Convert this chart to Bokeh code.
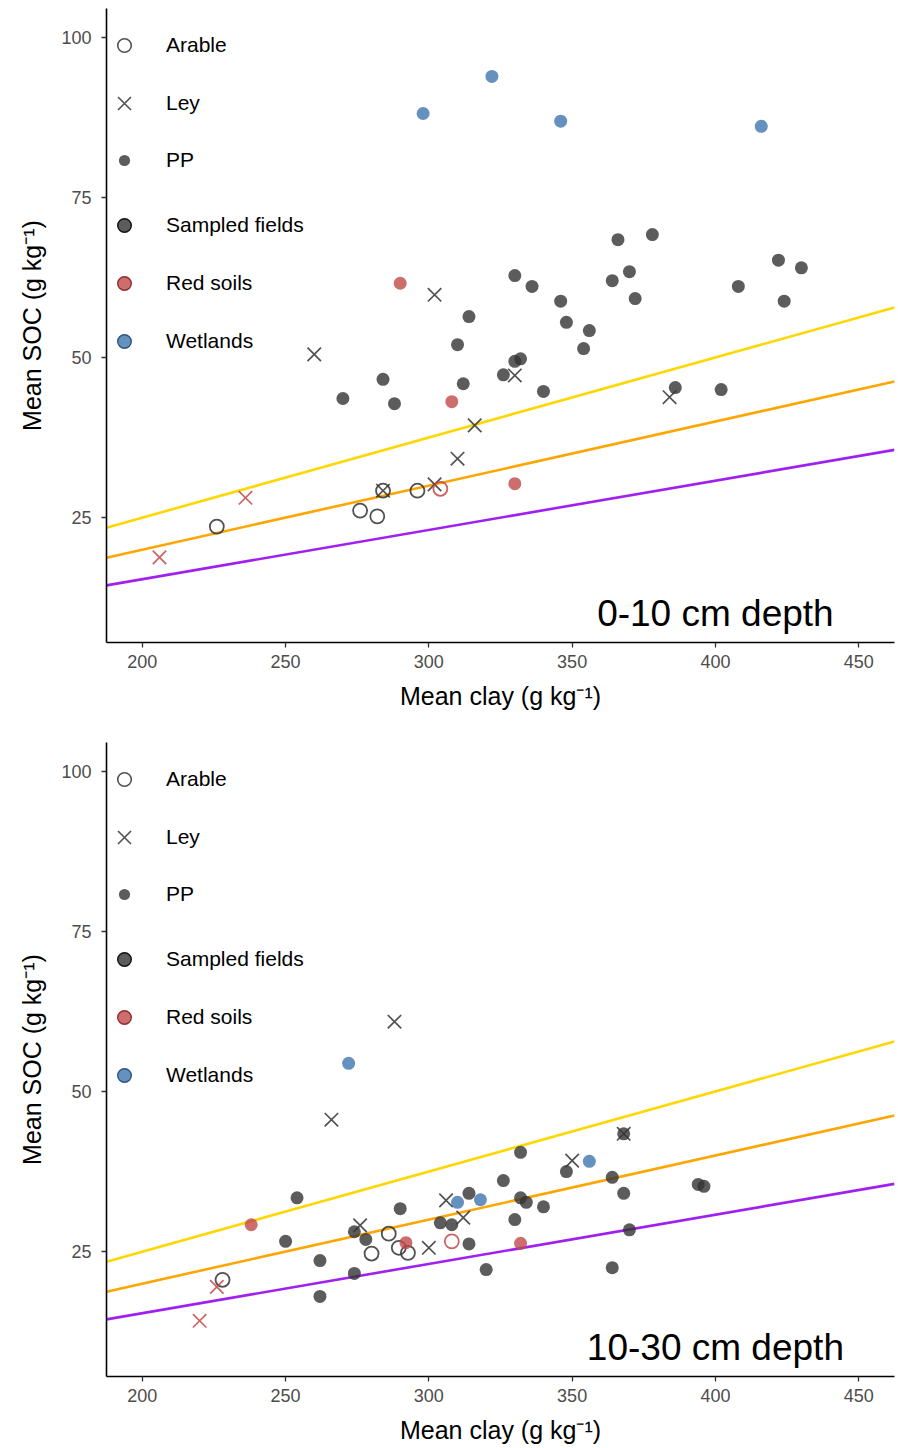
from bokeh.plotting import figure
from bokeh.models import Legend, LegendItem, Label, FixedTicker, Range1d
from bokeh.layouts import column
from bokeh.embed import file_html
from bokeh.resources import INLINE

FONT = "Liberation Sans"
NAN = float("nan")

# ---------------- axes / reference lines ----------------
X_LIMITS = [200, 450]
Y_LIMITS = [10, 100]
X_TICKS = [200, 250, 300, 350, 400, 450]
Y_TICKS = [25, 50, 75, 100]
RATIOS = [8, 10, 13]              # SOC = clay / ratio
RATIO_COLORS = ["#FFD700", "#FFA500", "#A020F0"]

# ---------------- 0-10 cm depth ----------------
d1_arable_clay = [226, 276, 282, 284, 296]
d1_arable_soc = [23.6, 26.1, 25.2, 29.2, 29.2]
d1_ley_clay = [260, 302, 330, 316, 310, 302, 284, 384]
d1_ley_soc = [50.5, 59.8, 47.2, 39.4, 34.2, 30.2, 29.2, 43.8]
d1_pp_clay = [270, 284, 288, 310, 314, 312, 326, 330, 332, 330, 336, 340, 346, 348,
              354, 356, 364, 366, 370, 372, 378, 386, 402, 408, 422, 424, 430]
d1_pp_soc = [43.6, 46.6, 42.8, 52.0, 56.4, 45.9, 47.3, 49.4, 49.8, 62.8, 61.1, 44.7, 58.8, 55.5,
             51.4, 54.2, 62.0, 68.4, 63.4, 59.2, 69.2, 45.3, 45.0, 61.1, 65.2, 58.8, 64.0]
d1_red_pp_clay = [290, 308, 330]
d1_red_pp_soc = [61.6, 43.1, 30.3]
d1_red_ley_clay = [236, 206]
d1_red_ley_soc = [28.1, 18.8]
d1_red_arable_clay = [304]
d1_red_arable_soc = [29.5]
d1_wet_pp_clay = [298, 322, 346, 416]
d1_wet_pp_soc = [88.1, 93.9, 86.9, 86.1]

# ---------------- 10-30 cm depth ----------------
d2_arable_clay = [228, 280, 286, 289.5, 292.7]
d2_arable_soc = [20.6, 24.7, 27.8, 25.6, 24.8]
d2_ley_clay = [288, 266, 276, 300, 306, 312, 350, 368]
d2_ley_soc = [60.9, 45.6, 29.1, 25.6, 33.0, 30.3, 39.2, 43.4]
d2_pp_clay = [254, 250, 262, 262, 274, 274, 278, 290, 304, 308, 314, 314, 320, 326,
              332, 332, 334, 340, 330, 348, 368, 364, 368, 370, 364, 394, 396]
d2_pp_soc = [33.4, 26.6, 23.6, 18.0, 21.6, 28.1, 26.9, 31.7, 29.5, 29.2, 34.1, 26.2, 22.2, 36.1,
             40.5, 33.4, 32.7, 32.0, 30.0, 37.5, 43.4, 36.6, 34.1, 28.4, 22.5, 35.5, 35.2]
d2_red_pp_clay = [238, 292, 332]
d2_red_pp_soc = [29.2, 26.4, 26.3]
d2_red_ley_clay = [226, 220]
d2_red_ley_soc = [19.5, 14.2]
d2_red_arable_clay = [308]
d2_red_arable_soc = [26.6]
d2_wet_pp_clay = [272, 310, 318, 356]
d2_wet_pp_soc = [54.4, 32.7, 33.1, 39.1]

SHAPE_LABELS = ["Arable", "Ley", "PP"]
GROUP_LABELS = ["Sampled fields", "Red soils", "Wetlands"]
GROUP_COLORS = ["#333333", "#C24848", "#3E76AE"]
GROUP_EDGES = ["#111111", "#8E2E2E", "#2B5680"]

DEPTHS = [
    dict(label="0-10 cm depth",
         sets=[(d1_arable_clay, d1_arable_soc, 0, 0), (d1_ley_clay, d1_ley_soc, 1, 0),
               (d1_pp_clay, d1_pp_soc, 2, 0), (d1_red_pp_clay, d1_red_pp_soc, 2, 1),
               (d1_red_ley_clay, d1_red_ley_soc, 1, 1), (d1_red_arable_clay, d1_red_arable_soc, 0, 1),
               (d1_wet_pp_clay, d1_wet_pp_soc, 2, 2)]),
    dict(label="10-30 cm depth",
         sets=[(d2_arable_clay, d2_arable_soc, 0, 0), (d2_ley_clay, d2_ley_soc, 1, 0),
               (d2_pp_clay, d2_pp_soc, 2, 0), (d2_red_pp_clay, d2_red_pp_soc, 2, 1),
               (d2_red_ley_clay, d2_red_ley_soc, 1, 1), (d2_red_arable_clay, d2_red_arable_soc, 0, 1),
               (d2_wet_pp_clay, d2_wet_pp_soc, 2, 2)]),
]


def expand(lims):
    span = lims[1] - lims[0]
    return lims[0] - 0.05 * span, lims[1] + 0.05 * span


def draw_points(p, xs, ys, shape, group):
    col = GROUP_COLORS[group]
    if shape == 0:
        return p.scatter(xs, ys, marker="circle", size=14, fill_color=None,
                         line_color=col, line_alpha=0.85, line_width=1.8)
    if shape == 1:
        return p.scatter(xs, ys, marker="x", size=19, line_color=col,
                         line_alpha=0.85, line_width=1.7)
    return p.scatter(xs, ys, marker="circle", size=13, fill_color=col,
                     fill_alpha=0.8, line_color=None)


def add_legend(p, items, loc, glyph, standoff, spacing=24):
    leg = Legend(items=[LegendItem(label=l, renderers=[r]) for l, r in items],
                 location=loc, margin=0, padding=0, spacing=spacing,
                 glyph_width=glyph, glyph_height=glyph, label_height=glyph,
                 label_standoff=standoff, label_text_font=FONT,
                 label_text_font_size="21px", label_text_color="black",
                 background_fill_alpha=0, border_line_alpha=0)
    p.add_layout(leg, "center")


def make_panel(spec, border_top, border_bottom):
    xr = expand(X_LIMITS)
    yr = expand(Y_LIMITS)
    p = figure(frame_width=788, frame_height=634, output_backend="svg",
               toolbar_location=None, x_range=Range1d(*xr), y_range=Range1d(*yr),
               min_border_left=106, min_border_right=2,
               min_border_top=border_top, min_border_bottom=border_bottom)
    p.xgrid.visible = False
    p.ygrid.visible = False
    p.outline_line_color = None
    p.background_fill_color = "white"

    for r, c in zip(RATIOS, RATIO_COLORS):
        p.line([xr[0], xr[1]], [xr[0] / r, xr[1] / r], line_color=c, line_width=2.6)

    for xs, ys, shape, group in spec["sets"]:
        draw_points(p, xs, ys, shape, group)

    # legend-only renderers (single NaN point, never drawn on the plot)
    arable_r = p.scatter([NAN], [NAN], marker="circle", fill_color=None, line_color="#333333",
                         line_alpha=0.85, line_width=1.6)
    ley_r = p.scatter([NAN], [NAN], marker="x", line_color="#333333", line_alpha=0.85,
                      line_width=1.6)
    pp_r = p.scatter([NAN], [NAN], marker="circle", fill_color="#333333", fill_alpha=0.8,
                     line_color=None)
    group_r = [
        p.scatter([NAN], [NAN], marker="circle", fill_color=c, fill_alpha=0.8,
                  line_color=e, line_width=1.4)
        for c, e in zip(GROUP_COLORS, GROUP_EDGES)
    ]
    # glyph centre at 18 px right of frame, labels start 60 px right of frame
    add_legend(p, [(SHAPE_LABELS[0], arable_r)], (1, 580), 34, 25)
    add_legend(p, [(SHAPE_LABELS[1], ley_r)], (-5, 516), 46, 19)
    add_legend(p, [(SHAPE_LABELS[2], pp_r)], (4, 468), 28, 28)
    add_legend(p, list(zip(GROUP_LABELS, group_r)), (1, 284), 34, 25)

    p.add_layout(Label(x=400, y=10, text=spec["label"], text_align="center",
                       text_baseline="middle", text_font=FONT,
                       text_font_size="37px", text_color="black"))

    for ax, ticks, stand in ((p.xaxis, X_TICKS, 7), (p.yaxis, Y_TICKS, 10)):
        ax.ticker = FixedTicker(ticks=ticks)
        ax.axis_line_color = "black"
        ax.axis_line_width = 1.6
        ax.major_tick_line_color = "#333333"
        ax.major_tick_line_width = 1.3
        ax.major_tick_out = 5
        ax.major_tick_in = 0
        ax.minor_tick_line_color = None
        ax.major_label_text_font = FONT
        ax.major_label_text_font_size = "18px"
        ax.major_label_text_color = "#4D4D4D"
        ax.major_label_standoff = stand
        ax.axis_label_text_font = FONT
        ax.axis_label_text_font_size = "25px"
        ax.axis_label_text_font_style = "normal"
        ax.axis_label_text_color = "black"
    p.xaxis.axis_label_standoff = 11
    p.yaxis.axis_label_standoff = 12
    p.xaxis.axis_label = "Mean clay (g kg\u207b\u00b9)"
    p.yaxis.axis_label = "Mean SOC (g kg\u207b\u00b9)"
    return p


p1 = make_panel(DEPTHS[0], 8, 70)
p2 = make_panel(DEPTHS[1], 30, 62)
layout = column(p1, p2)

open("out.html", "w").write(file_html(layout, INLINE))
